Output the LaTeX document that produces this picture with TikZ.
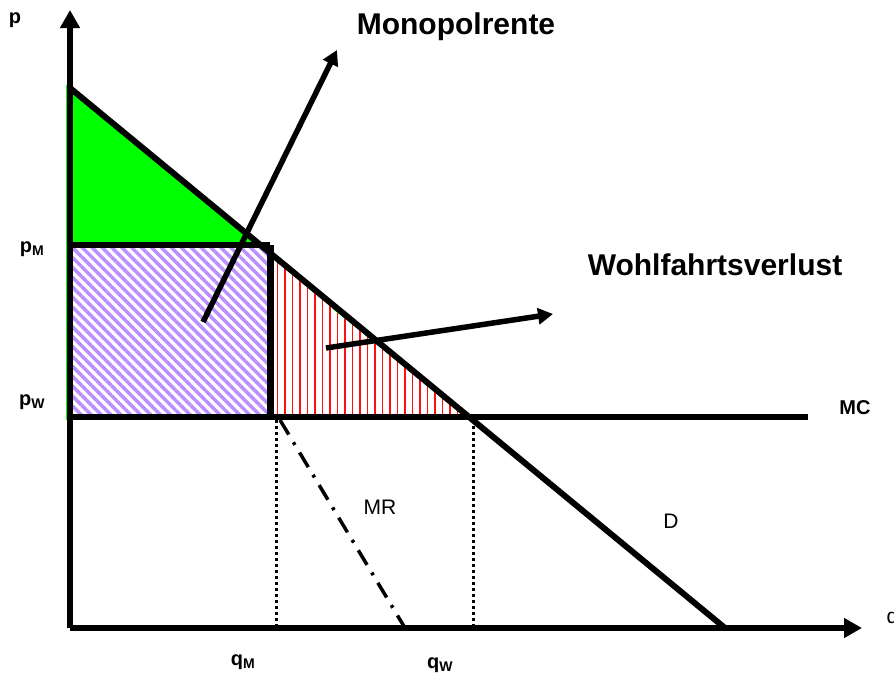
\documentclass[tikz,border=0pt]{standalone}
\usepackage{fontspec}
\setmainfont{Liberation Sans}
\usetikzlibrary{arrows.meta,patterns.meta}
\definecolor{renteGreen}{HTML}{00FF00}
\definecolor{hatchPurple}{HTML}{BC8EFF}
\definecolor{hatchRed}{HTML}{FF1010}

\begin{document}
\begin{tikzpicture}[
  x=1pt, y=-1pt,
  axis/.style={line width=6pt, -{Triangle[length=18pt,width=19pt]}},
  curve/.style={line width=6pt},
  guide/.style={line width=3pt, dash pattern=on 3pt off 3pt},
  mrline/.style={line width=3.5pt, dash pattern=on 17pt off 9pt on 3pt off 9pt},
  pointer/.style={line width=5.5pt, -{Triangle[length=15pt,width=16pt]}},
  tick/.style={font=\bfseries\fontsize{20}{22}\selectfont},
  curvelabel/.style={font=\fontsize{21}{23}\selectfont},
  title/.style={font=\bfseries\fontsize{30}{32}\selectfont}
]
\useasboundingbox (0,0) rectangle (894,680);

% points of the diagram
\coordinate (O) at (70,628);
\coordinate (ytop) at (70,10);
\coordinate (xend) at (862,628);
\coordinate (dtop) at (70,88);
\coordinate (dend) at (725,628);
\coordinate (pm) at (70,245);
\coordinate (pw) at (70,417);
\coordinate (dpm) at (261,245);
\coordinate (cm) at (270,245);
\coordinate (cmw) at (270,417);
\coordinate (redtop) at (272,254);
\coordinate (redfoot) at (272,417);
\coordinate (cw) at (470,417);
\coordinate (mcend) at (808,417);
\coordinate (qmtop) at (276,420);
\coordinate (qmfoot) at (276,628);
\coordinate (qwtop) at (473,420);
\coordinate (qwfoot) at (473,628);
\coordinate (mrtop) at (280,420);
\coordinate (mrfoot) at (405,628);

% areas
\fill[renteGreen] (dtop) -- (pm) -- (dpm) -- cycle;
\draw[renteGreen, line width=3pt] (67,85) -- (67,420);
\fill[pattern={Lines[angle=-45, distance=7pt, line width=3.5pt]}, pattern color=hatchPurple]
  (pm) rectangle (cmw);
\fill[pattern={Lines[angle=90, distance=7.5pt, line width=1.6pt]}, pattern color=hatchRed]
  (redtop) -- (redfoot) -- (cw) -- cycle;
\draw[renteGreen, line width=2pt] (333,308) -- (472,418);

% helper lines
\draw[guide] (qmtop) -- (qmfoot);
\draw[guide] (qwtop) -- (qwfoot);
\draw[mrline] (mrtop) -- (mrfoot);

% curves
\draw[curve] (dtop) -- (dend);
\draw[curve] (pm) -- (cm);
\draw[line width=7pt] (cm) -- (cmw);
\draw[curve] (pw) -- (mcend);

% axes
\draw[axis] (O) -- (ytop);
\draw[axis] (O) -- (xend);

% pointers
\draw[pointer] (203,322) -- (337,50);
\draw[pointer] (326,348) -- (553,314);

% labels
\node[tick] (plabel) at (15,20) {p};
\node[tick] (pmlabel) at (32,249) {p\textsubscript{M}};
\node[tick] (pwlabel) at (32,402) {p\textsubscript{W}};
\node[tick] (qmlabel) at (243,662) {q\textsubscript{M}};
\node[tick] (qwlabel) at (440,665) {q\textsubscript{W}};
\node[tick] (mclabel) at (855,408) {MC};
\node[curvelabel, anchor=west] (qlabel) at (883,620) {q};
\node[curvelabel] (mrlabel) at (380,507) {MR};
\node[curvelabel] (dlabel) at (671,521) {D};
\node[title] (rente) at (456,27) {Monopolrente};
\node[title] (verlust) at (715,265) {Wohlfahrtsverlust};
\end{tikzpicture}
\end{document}
